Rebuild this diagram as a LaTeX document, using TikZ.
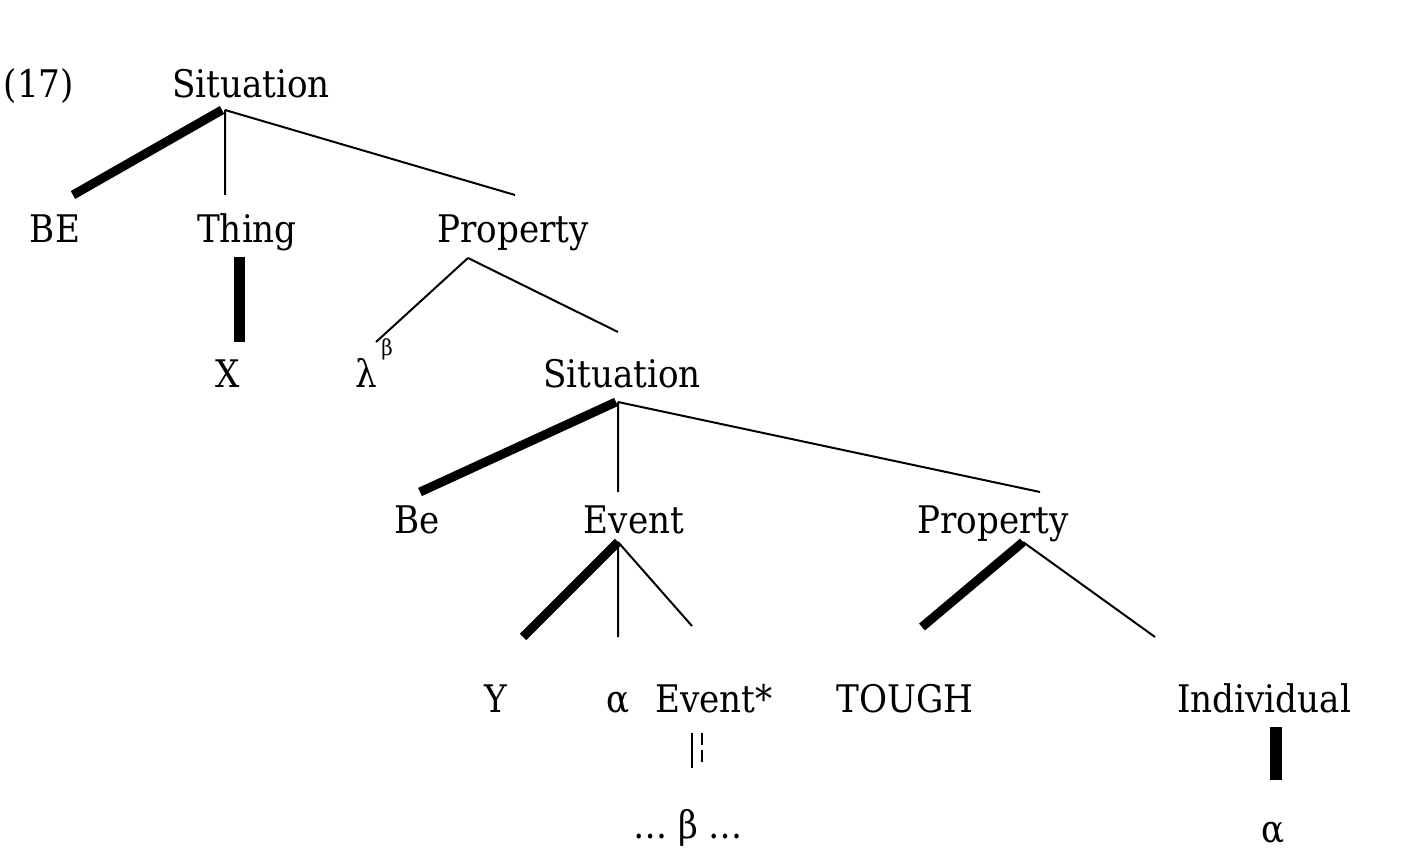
\documentclass[tikz,border=0pt]{standalone}
\usepackage{fontspec}
\setmainfont{DejaVu Serif Condensed}
\begin{document}
\begin{tikzpicture}[x=1pt,y=-1pt,
  lbl/.style={anchor=base,inner sep=0pt,font=\fontsize{38}{40}\selectfont},
  thin/.style={line width=2pt},
  thick/.style={line width=9pt}]
\useasboundingbox (0,0) rectangle (1425,866);
\node[lbl] (n17) at (39,98) {(17)};
\node[lbl] (s1) at (251,98) {Situation};
\node[lbl] (be) at (55,243) {BE};
\node[lbl] (thing) at (247,243) {Thing};
\node[lbl] (p1) at (513,243) {Property};
\node[lbl] (x) at (228,388) {X};
\node[lbl] (lam) at (366,388) {λ};
\node[lbl,font=\fontsize{22}{24}\selectfont] (beta) at (387,356) {β};
\node[lbl] (s2) at (622,388) {Situation};
\node[lbl] (be2) at (417,533) {Be};
\node[lbl] (ev) at (634,533) {Event};
\node[lbl] (p2) at (993,533) {Property};
\node[lbl] (y) at (496,712) {Y};
\node[lbl] (al) at (618,712) {α};
\node[lbl] (evs) at (714,712) {Event*};
\node[lbl] (tough) at (905,712) {TOUGH};
\node[lbl] (ind) at (1264,712) {Individual};
\node[lbl] (dots) at (688,838) {… β …};
\node[lbl] (al2) at (1273,842) {α};
\coordinate (a1) at (222,110); \coordinate (a2) at (73,195);
\coordinate (a3) at (225,110); \coordinate (a4) at (225,195); \coordinate (a5) at (515,195);
\coordinate (b1) at (239,257); \coordinate (b2) at (239,342);
\coordinate (c1) at (468,258); \coordinate (c2) at (376,342); \coordinate (c3) at (618,332);
\coordinate (d1) at (616,402); \coordinate (d2) at (420,492); \coordinate (d3) at (618,402);
\coordinate (d4) at (618,492); \coordinate (d5) at (1040,492);
\coordinate (e1) at (618,542); \coordinate (e2) at (523,637); \coordinate (e3) at (618,637); \coordinate (e4) at (692,626);
\coordinate (f1) at (1023,542); \coordinate (f2) at (922,627); \coordinate (f3) at (1155,637);
\coordinate (g1) at (1276,727); \coordinate (g2) at (1276,780);
\coordinate (h1) at (692,733); \coordinate (h2) at (692,768);
\coordinate (h3) at (702,733); \coordinate (h4) at (702,762);
\draw[thick] (a1)--(a2);
\draw[thin] (a3)--(a4) (a3)--(a5);
\draw[line width=11pt] (b1)--(b2);
\draw[thin] (c1)--(c2) (c1)--(c3);
\draw[thick] (d1)--(d2);
\draw[thin] (d3)--(d4) (d3)--(d5);
\draw[thick] (e1)--(e2);
\draw[thin] (e1)--(e3) (e1)--(e4);
\draw[thick] (f1)--(f2);
\draw[thin] (f1)--(f3);
\draw[line width=12pt] (g1)--(g2);
\draw[thin] (h1)--(h2);
\draw[thin,dash pattern=on 12pt off 5pt] (h3)--(h4);
\end{tikzpicture}
\end{document}
